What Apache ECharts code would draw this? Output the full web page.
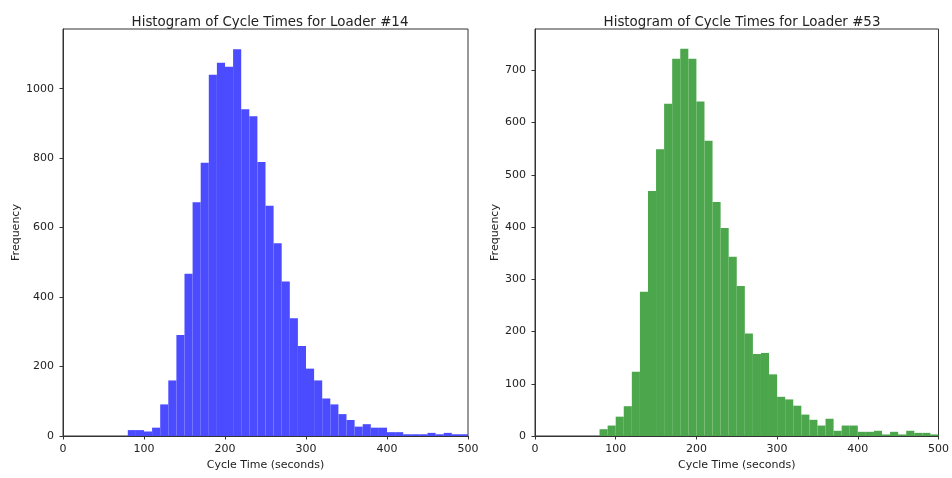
<!DOCTYPE html>
<html>
<head>
<meta charset="utf-8">
<script src="https://cdn.jsdelivr.net/npm/echarts@6/dist/echarts.min.js"></script>
<style>html,body{margin:0;padding:0;background:#fff;}#c{width:952px;height:478px;}</style>
</head>
<body>
<div id="c"></div>
<script>
const binStart = 80;
const binWidth = 10;
const loader14 = [17,17,13,24,91,160,291,467,673,787,1040,1075,1063,1114,941,921,789,663,555,445,339,259,194,160,108,91,63,46,27,34,24,24,11,11,5,5,5,9,5,9,5,5];
const loader53 = [13,20,37,57,123,276,469,549,636,722,741,722,640,565,448,398,343,287,196,157,159,118,75,70,58,41,31,20,33,10,20,20,8,8,10,3,8,3,10,6,6,3];
const xTicks = [0,100,200,300,400,500];
const titles = ['Histogram of Cycle Times for Loader #14','Histogram of Cycle Times for Loader #53'];
const colors = ['#4b4bff','#4ca64c'];

function toBins(arr){
  return arr.map((v,i)=>[binStart+i*binWidth, binStart+(i+1)*binWidth, v]);
}

const font = 'DejaVu Sans';
const txt = '#222';
function axisX(gi){
  return {
    type:'value', gridIndex:gi, min:xTicks[0], max:xTicks[xTicks.length-1], interval:xTicks[1]-xTicks[0],
    name:'Cycle Time (seconds)', nameLocation:'middle', nameGap:23,
    nameTextStyle:{fontFamily:font,fontSize:11,color:txt},
    axisLine:{show:true,onZero:false,lineStyle:{color:'#333',width:1}},
    axisTick:{show:true,length:3.5,lineStyle:{color:'#333'}},
    axisLabel:{fontFamily:font,fontSize:11,color:txt,margin:8},
    splitLine:{show:false}
  };
}
function axisY(gi,max,gap){
  return {
    type:'value', gridIndex:gi, min:0, max:max, interval: gi===0?200:100,
    name:'Frequency', nameLocation:'middle', nameGap:gap, nameRotate:90,
    nameTextStyle:{fontFamily:font,fontSize:11,color:txt},
    axisLine:{show:true,lineStyle:{color:'#333',width:1}},
    axisTick:{show:true,length:3.5,lineStyle:{color:'#333'}},
    axisLabel:{fontFamily:font,fontSize:11,color:txt,margin:9,showMaxLabel:false,formatter:function(v){return String(v);}},
    splitLine:{show:false}
  };
}
function histSeries(gi,arr,color){
  return {
    type:'custom', xAxisIndex:gi, yAxisIndex:gi,
    data: toBins(arr),
    encode:{x:[0,1],y:2},
    renderItem:function(params,api){
      const p0 = api.coord([api.value(0), api.value(2)]);
      const p1 = api.coord([api.value(1), 0]);
      return {type:'rect', shape:{x:p0[0], y:p0[1], width:p1[0]-p0[0], height:p1[1]-p0[1]},
        style:{fill:color}};
    }
  };
}

const chart = echarts.init(document.getElementById('c'), null, {renderer:'canvas'});
chart.setOption({
  animation:false,
  backgroundColor:'#fff',
  title:[
    {text:titles[0], left:265, top:11, textAlign:'center', textStyle:{fontFamily:font,fontSize:13.4,fontWeight:'normal',color:txt}},
    {text:titles[1], left:737, top:11, textAlign:'center', textStyle:{fontFamily:font,fontSize:13.4,fontWeight:'normal',color:txt}}
  ],
  grid:[
    {left:63, right:484, top:29, bottom:42, show:true, borderColor:'#333', borderWidth:1, backgroundColor:'transparent'},
    {left:535, right:13, top:29, bottom:42, show:true, borderColor:'#333', borderWidth:1, backgroundColor:'transparent'}
  ],
  xAxis:[axisX(0),axisX(1)],
  yAxis:[axisY(0,1172,39),axisY(1,779,32)],
  series:[histSeries(0,loader14,colors[0]),histSeries(1,loader53,colors[1])]
});
</script>
</body>
</html>
